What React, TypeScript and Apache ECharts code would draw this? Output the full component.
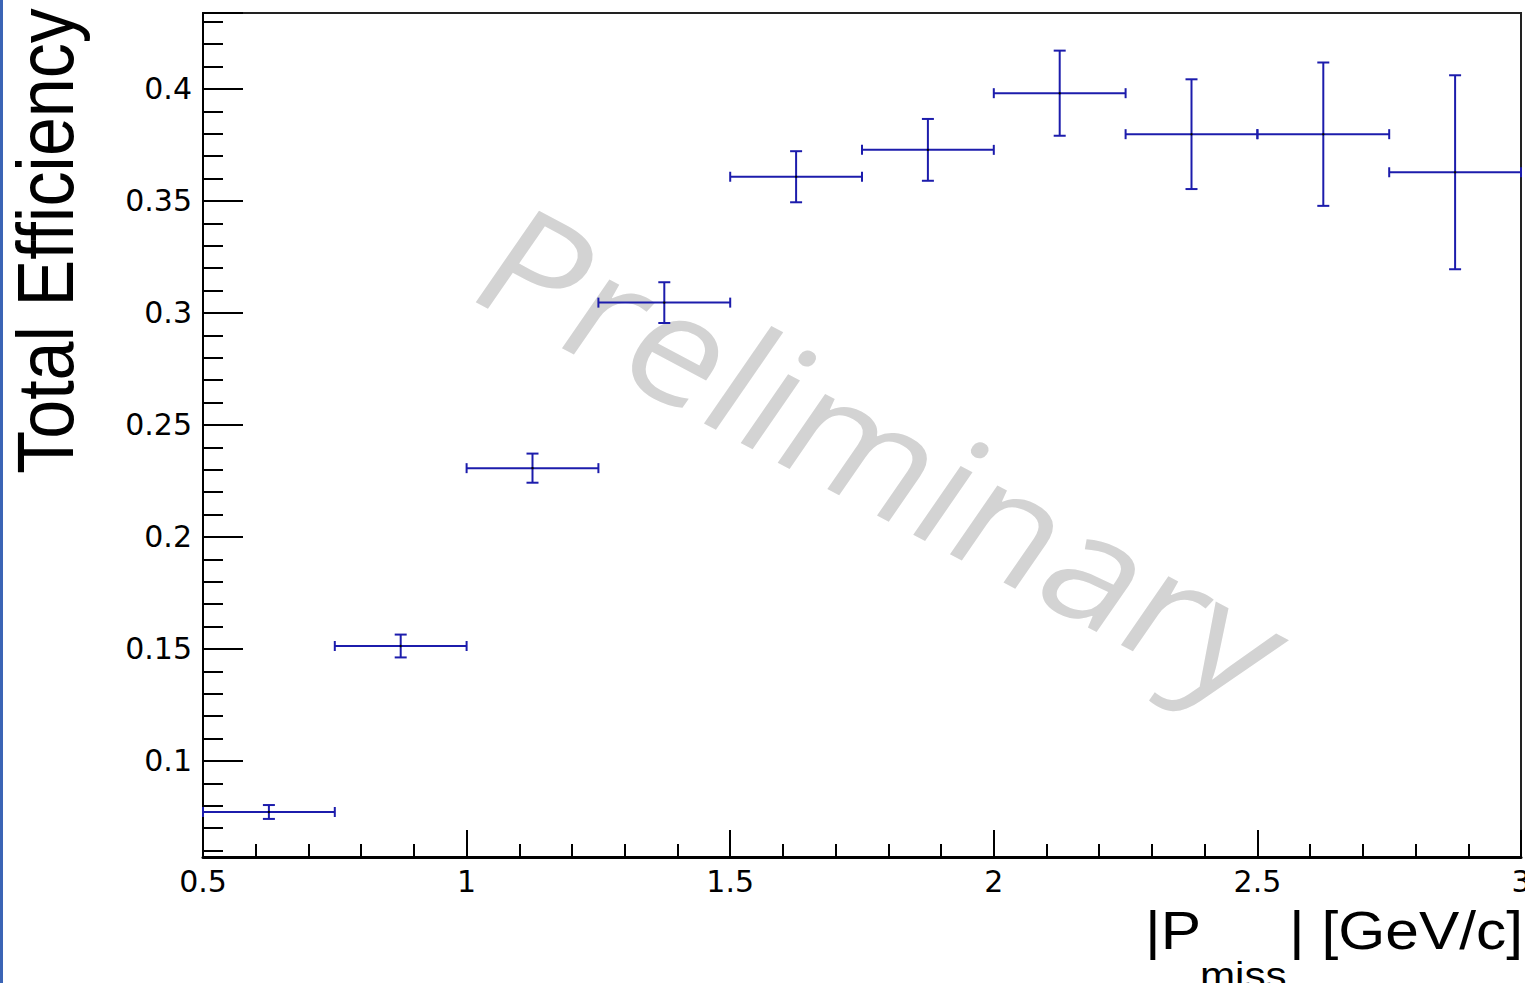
import React, { useEffect, useRef } from 'react';
import * as echarts from 'echarts';

// Bin edges / centres of |P_miss| [GeV/c]
const binLow = [0.5, 0.75, 1.0, 1.25, 1.5, 1.75, 2.0, 2.25, 2.5, 2.75];
const binHigh = [0.75, 1.0, 1.25, 1.5, 1.75, 2.0, 2.25, 2.5, 2.75, 3.0];
const binCenter = [0.625, 0.875, 1.125, 1.375, 1.625, 1.875, 2.125, 2.375, 2.625, 2.875];
// Total efficiency and its uncertainty per bin
const efficiency = [0.0772, 0.1513, 0.2307, 0.3046, 0.3608, 0.3728, 0.3981, 0.3798, 0.3798, 0.3628];
const effError = [0.0031, 0.0051, 0.0065, 0.0091, 0.0114, 0.0138, 0.019, 0.0245, 0.032, 0.0433];

// Axis ranges
const xRange = [0.5, 3.0];
const yRange = [0.0571, 0.4339];

const MARK = '#1c1cac';
const AXIS = '#000';

export default function App() {
  const ref = useRef<HTMLDivElement>(null);

  useEffect(() => {
    if (!ref.current) return;
    const chart = echarts.init(ref.current, undefined, { renderer: 'svg' });

    const data = binCenter.map((c, i) => [c, efficiency[i], binLow[i], binHigh[i], effError[i]]);

    const tickFont = 'DejaVu Sans';

    chart.setOption({
      animation: false,
      backgroundColor: '#fff',
      grid: {
        left: 203,
        right: 4,
        top: 13,
        bottom: 126,
        show: true,
        borderColor: '#222',
        borderWidth: 2,
        containLabel: false,
        outerBoundsMode: 'none',
      },
      xAxis: {
        type: 'value',
        min: xRange[0],
        max: xRange[1],
        interval: 0.5,
        axisLine: { show: true, onZero: false, lineStyle: { color: AXIS, width: 3 } },
        axisTick: { show: true, inside: true, length: 27, lineStyle: { color: AXIS, width: 2 } },
        minorTick: { show: true, splitNumber: 5, length: 13, lineStyle: { color: AXIS, width: 2 } },
        axisLabel: { margin: 9, fontFamily: tickFont, fontSize: 30, color: '#000' },
        splitLine: { show: false },
        minorSplitLine: { show: false },
      },
      yAxis: {
        type: 'value',
        min: yRange[0],
        max: yRange[1],
        splitNumber: 8,
        minInterval: 0.05,
        maxInterval: 0.05,
        axisLine: { show: true, onZero: false, lineStyle: { color: AXIS, width: 2 } },
        axisTick: { show: true, inside: true, length: 40, lineStyle: { color: AXIS, width: 2 } },
        minorTick: { show: true, splitNumber: 5, length: 20, lineStyle: { color: AXIS, width: 2 } },
        axisLabel: {
          margin: 11,
          fontFamily: tickFont,
          fontSize: 30,
          color: '#000',
          showMinLabel: false,
          showMaxLabel: false,
        },
        splitLine: { show: false },
        minorSplitLine: { show: false },
      },
      graphic: [
        {
          type: 'rect',
          shape: { x: 0, y: 0, width: 3, height: 983 },
          style: { fill: '#3b64b5' },
          z: 10,
        },
        {
          type: 'group',
          x: 886,
          y: 452,
          scaleX: 1.14,
          z: 0,
          children: [
            {
              type: 'text',
              rotation: -0.545,
              style: {
                text: 'Preliminary',
                font: '150px "Open Sans"',
                fill: '#d3d3d3',
                align: 'center',
                verticalAlign: 'middle',
              },
            },
          ],
        },
        {
          type: 'text',
          x: 45.5,
          y: 241,
          rotation: Math.PI / 2,
          scaleY: 1.14,
          style: {
            text: 'Total Efficiency',
            font: '70px "Liberation Sans"',
            fill: '#000',
            align: 'center',
            verticalAlign: 'middle',
          },
        },
        {
          type: 'text',
          x: 1145,
          y: 931,
          scaleX: 1.14,
          style: { text: '|P', font: '53px "Liberation Sans"', fill: '#000', align: 'left', verticalAlign: 'middle' },
        },
        {
          type: 'text',
          x: 1200,
          y: 975,
          scaleX: 1.14,
          style: { text: 'miss', font: '37px "Liberation Sans"', fill: '#000', align: 'left', verticalAlign: 'middle' },
        },
        {
          type: 'text',
          x: 1523,
          y: 931,
          scaleX: 1.14,
          style: { text: '| [GeV/c]', font: '53px "Liberation Sans"', fill: '#000', align: 'right', verticalAlign: 'middle' },
        },
      ],
      series: [
        {
          type: 'custom',
          clip: false,
          z: 5,
          data,
          encode: { x: [0, 2, 3], y: [1] },
          renderItem: (params: any, api: any) => {
            const x = api.value(0);
            const y = api.value(1);
            const xl = api.value(2);
            const xh = api.value(3);
            const e = api.value(4);
            const c = api.coord([x, y]);
            const l = api.coord([xl, y]);
            const r = api.coord([xh, y]);
            const t = api.coord([x, y + e]);
            const b = api.coord([x, y - e]);
            const style = { stroke: MARK, lineWidth: 2, fill: null };
            const capH = 5;
            const capW = 6;
            return {
              type: 'group',
              children: [
                { type: 'line', shape: { x1: l[0], y1: l[1], x2: r[0], y2: r[1] }, style },
                { type: 'line', shape: { x1: t[0], y1: t[1], x2: b[0], y2: b[1] }, style },
                { type: 'line', shape: { x1: l[0], y1: l[1] - capH, x2: l[0], y2: l[1] + capH }, style },
                { type: 'line', shape: { x1: r[0], y1: r[1] - capH, x2: r[0], y2: r[1] + capH }, style },
                { type: 'line', shape: { x1: t[0] - capW, y1: t[1], x2: t[0] + capW, y2: t[1] }, style },
                { type: 'line', shape: { x1: b[0] - capW, y1: b[1], x2: b[0] + capW, y2: b[1] }, style },
                { type: 'circle', shape: { cx: c[0], cy: c[1], r: 1.2 }, style: { fill: '#000' } },
              ],
            };
          },
        },
      ],
    });

    return () => {
      chart.dispose();
    };
  }, []);

  return (
    <div
      ref={ref}
      style={{ position: 'fixed', left: 0, top: 0, width: 1525, height: 983, background: '#fff' }}
    />
  );
}
